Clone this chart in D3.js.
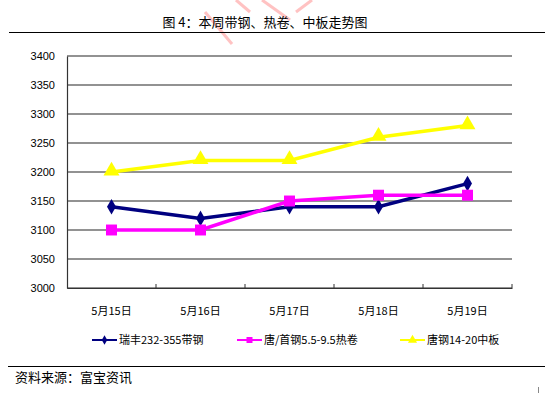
<!DOCTYPE html>
<html><head><meta charset="utf-8">
<script src="https://cdn.jsdelivr.net/npm/d3@7"></script>
<style>body{margin:0;background:#fff}svg{display:block}</style>
</head><body>
<svg id="c" width="545" height="394"></svg>
<script>
const categories = ["5月15日","5月16日","5月17日","5月18日","5月19日"];
const seriesNames = ["瑞丰232-355带钢","唐/首钢5.5-9.5热卷","唐钢14-20中板"];
const ruifeng = [3140,3120,3140,3140,3180];
const tangShou = [3100,3100,3150,3160,3160];
const tangGang = [3200,3220,3220,3260,3280];
const yTicks = [3000,3050,3100,3150,3200,3250,3300,3350,3400];
const colors = ["#000080","#FF00FF","#FFFF00"];
const shapes = [d3.symbolDiamond, d3.symbolSquare, d3.symbolTriangle];

const svg = d3.select("#c");
const font = "'Noto Sans CJK SC', 'DejaVu Sans', sans-serif";
const L=67,R=512,T=56,B=288;
const x = d3.scaleBand().domain(categories).range([L,R]);
const y = d3.scaleLinear().domain([3000,3400]).range([B,T]);

// watermark strokes
const wm = svg.append("g").attr("stroke","#ff9090").attr("stroke-opacity",0.55).attr("stroke-width",3).attr("fill","none");
[[[205,12],[232,44]],[[262,0],[290,20]],[[312,0],[296,12]],[[236,0],[250,12]]].forEach(p=>wm.append("path").attr("d",d3.line()(p)));

// title
svg.append("text").attr("x",265).attr("y",27).attr("text-anchor","middle")
  .attr("font-family",font).attr("font-size",13).text("图 4：本周带钢、热卷、中板走势图");
svg.append("line").attr("x1",9).attr("x2",545).attr("y1",32.5).attr("y2",32.5).attr("stroke","#000").attr("stroke-width",1);

// gridlines
svg.append("g").selectAll("line").data(yTicks).join("line")
  .attr("x1",L).attr("x2",R).attr("y1",d=>y(d)).attr("y2",d=>y(d))
  .attr("stroke","#6e6e6e").attr("stroke-width",1.3);

// y axis
const ya = svg.append("g").attr("transform",`translate(${L},0)`)
  .call(d3.axisLeft(y).tickValues(yTicks).tickFormat(d3.format("d")).tickSize(0).tickPadding(12));
ya.select(".domain").attr("stroke","#333").attr("stroke-width",1.2);
ya.selectAll("text").attr("font-family","'Liberation Sans', Arial, sans-serif").attr("font-size",11).attr("fill","#000");

// x axis
const xa = svg.append("g").attr("transform",`translate(0,${B})`)
  .call(d3.axisBottom(x).tickSize(0).tickPadding(19));
xa.select(".domain").attr("stroke","#333").attr("stroke-width",1.2);
xa.selectAll("text").attr("font-family",font).attr("font-size",11).attr("fill","#000");
svg.append("g").selectAll("line").data(categories).join("line")
  .attr("x1",d=>x(d)+x.bandwidth()).attr("x2",d=>x(d)+x.bandwidth())
  .attr("y1",B).attr("y2",B-4).attr("stroke","#333");

// series
const data = [ruifeng,tangShou,tangGang];
const cx = i => x(categories[i]) + x.bandwidth()/2;
const line = d3.line().x((d,i)=>cx(i)).y(d=>y(d));
const order = [2,0,1];
order.forEach(s=>{
  const g = svg.append("g");
  g.append("path").attr("d",line(data[s])).attr("fill","none").attr("stroke",colors[s]).attr("stroke-width",3.5);
  g.selectAll("path.m").data(data[s]).join("path").attr("class","m")
    .attr("transform",(d,i)=>`translate(${cx(i)},${y(d)+(s===2?-1:0)})`)
    .attr("d",d3.symbol().type(shapes[s]).size(s===0?70:s===1?120:110))
    .attr("fill",colors[s]);
});

// legend
const legX = [92,237,400];
const legY = 340;
seriesNames.forEach((n,s)=>{
  const g = svg.append("g");
  g.append("line").attr("x1",legX[s]).attr("x2",legX[s]+25).attr("y1",legY).attr("y2",legY)
    .attr("stroke",colors[s]).attr("stroke-width",2);
  g.append("path").attr("transform",`translate(${legX[s]+12.5},${legY})`)
    .attr("d",d3.symbol().type(shapes[s]).size(s===0?26:36)).attr("fill",colors[s]);
  g.append("text").attr("x",legX[s]+27).attr("y",legY+4).attr("font-family",font).attr("font-size",11).text(n);
});

// source
svg.append("line").attr("x1",8).attr("x2",545).attr("y1",366.5).attr("y2",366.5).attr("stroke","#000");
svg.append("text").attr("x",15).attr("y",382).attr("font-family",font).attr("font-size",13).text("资料来源：富宝资讯");
svg.append("line").attr("x1",538.5).attr("x2",538.5).attr("y1",387).attr("y2",393).attr("stroke","#888");
</script>
</body></html>
